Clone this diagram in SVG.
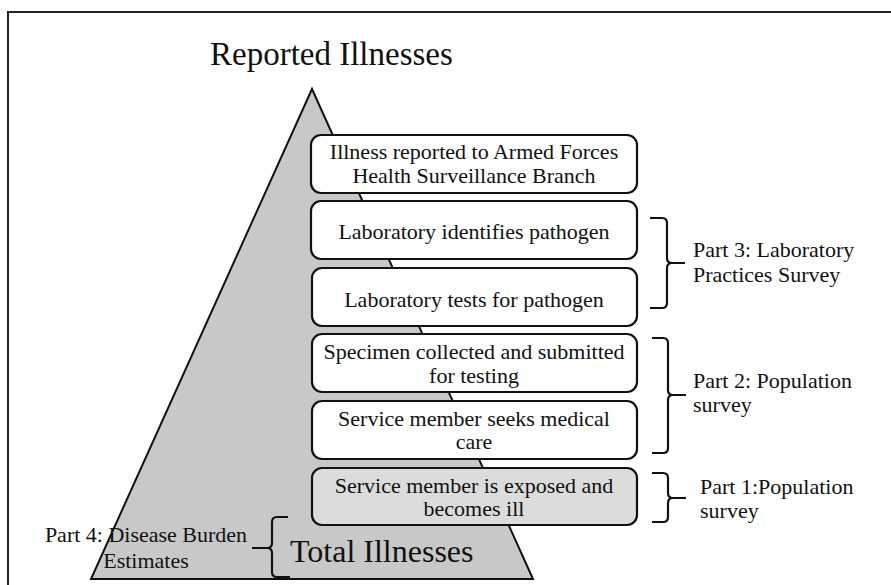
<svg xmlns="http://www.w3.org/2000/svg" width="891" height="585" viewBox="0 0 891 585">
<style>
text{font-family:"Liberation Serif","Times New Roman",serif;fill:#111;}
.t{font-size:22px;}
.c{text-anchor:middle;}
.box{fill:#fff;stroke:#111;stroke-width:2.2;}
.gbox{fill:#dcdcdc;stroke:#111;stroke-width:2.2;}
.br{fill:none;stroke:#111;stroke-width:2.2;}
</style>
<rect x="8" y="12" width="900" height="600" fill="#fff" stroke="#222" stroke-width="2"/>
<g id="pyramid">
<polygon points="312,89 91,579 533,579" fill="#c8c8c8" stroke="#111" stroke-width="2"/>
</g>
<g id="title"><text x="210" y="65" font-size="33">Reported Illnesses</text></g>
<g id="total"><text x="290" y="562" font-size="32">Total Illnesses</text></g>
<g id="n1"><rect class="box" x="311" y="135" width="326" height="58" rx="10"/>
<text class="t c" x="474" y="159">Illness reported to Armed Forces</text>
<text class="t c" x="474" y="183">Health Surveillance Branch</text></g>
<g id="n2"><rect class="box" x="311" y="201" width="326" height="58" rx="10"/>
<text class="t c" x="474" y="239">Laboratory identifies pathogen</text></g>
<g id="n3"><rect class="box" x="312" y="268" width="325" height="58" rx="10"/>
<text class="t c" x="474" y="307">Laboratory tests for pathogen</text></g>
<g id="n4"><rect class="box" x="312" y="334" width="325" height="58" rx="10"/>
<text class="t c" x="474" y="359">Specimen collected and submitted</text>
<text class="t c" x="474" y="383">for testing</text></g>
<g id="n5"><rect class="box" x="312" y="401" width="325" height="58" rx="10"/>
<text class="t c" x="474" y="426">Service member seeks medical</text>
<text class="t c" x="474" y="449">care</text></g>
<g id="n6"><rect class="gbox" x="312" y="468" width="325" height="57" rx="10"/>
<text class="t c" x="474" y="493">Service member is exposed and</text>
<text class="t c" x="474" y="516">becomes ill</text></g>
<g id="connectors">
<path class="br" d="M650 218 H662 Q667 218 667 223 V258 Q667 263 672 263 H685 M672 263 Q667 263 667 268 V303 Q667 308 662 308 H650"/>
<path class="br" d="M652 338 H663 Q668 338 668 343 V390 Q668 395 673 395 H686 M673 395 Q668 395 668 400 V448 Q668 453 663 453 H652"/>
<path class="br" d="M652 473 H663 Q668 473 668 478 V493 Q668 498 673 498 H686 M673 498 Q668 498 668 503 V517 Q668 522 663 522 H652"/>
<path class="br" d="M288 517 H277 Q272 517 272 522 V543 Q272 548 267 548 H252 M267 548 Q272 548 272 553 V572 Q272 577 277 577 H290"/>
</g>
<g id="part3"><text class="t" x="693" y="257">Part 3: Laboratory</text><text class="t" x="693" y="282">Practices Survey</text></g>
<g id="part2"><text class="t" x="693" y="388">Part 2: Population</text><text class="t" x="693" y="412">survey</text></g>
<g id="part1"><text class="t" x="700" y="494">Part 1:Population</text><text class="t" x="700" y="518">survey</text></g>
<g id="part4"><text class="t c" x="146" y="542">Part 4: Disease Burden</text><text class="t c" x="146" y="568">Estimates</text></g>
</svg>
